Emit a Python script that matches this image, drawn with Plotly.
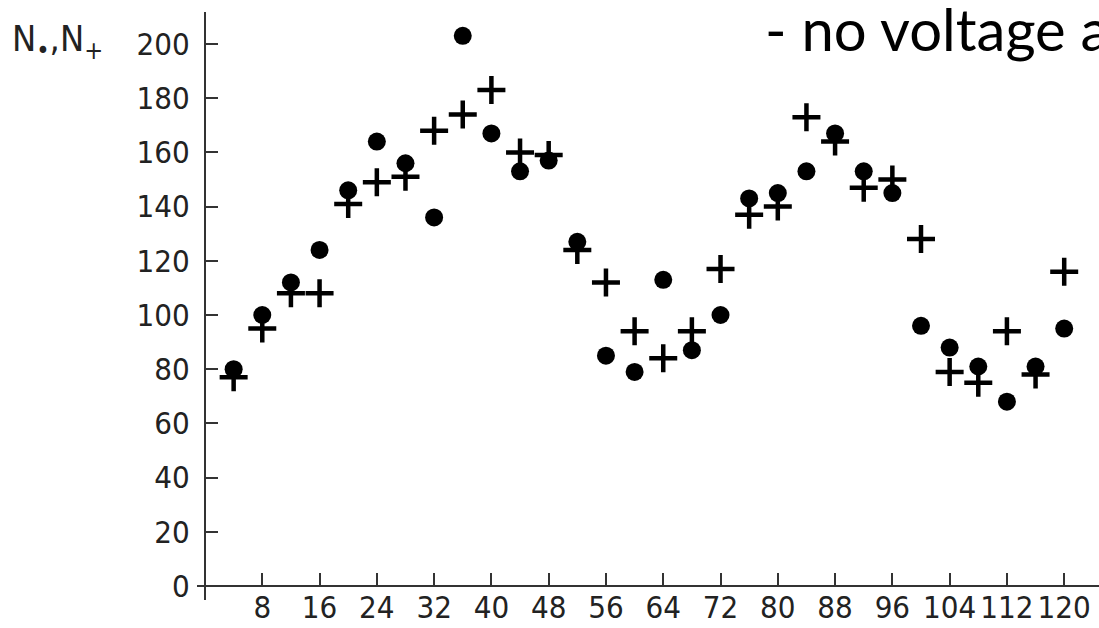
import plotly.graph_objects as go

# ---- data ----
x_pos = [4, 8, 12, 16, 20, 24, 28, 32, 36, 40, 44, 48, 52, 56, 60,
         64, 68, 72, 76, 80, 84, 88, 92, 96, 100, 104, 108, 112, 116, 120]
n_dot = [80, 100, 112, 124, 146, 164, 156, 136, 203, 167, 153, 157, 127, 85, 79,
         113, 87, 100, 143, 145, 153, 167, 153, 145, 96, 88, 81, 68, 81, 95]
n_plus = [77, 95, 108, 108, 141, 149, 151, 168, 174, 183, 160, 159, 124, 112, 94,
          84, 94, 117, 137, 140, 173, 164, 147, 150, 128, 79, 75, 94, 78, 116]
y_ticks = [0, 20, 40, 60, 80, 100, 120, 140, 160, 180, 200]
x_ticks = [8, 16, 24, 32, 40, 48, 56, 64, 72, 80, 88, 96, 104, 112, 120]

W, H = 1099, 628
ML, MR, MT, MB = 197, 0, 12, 28
PW, PH = W - ML - MR, H - MT - MB
PX_X = 7.16   # pixels per x unit
PX_Y = 2.71   # pixels per y unit
X_OFF = 8     # pixels from plot left to x=0
Y_OFF = 14    # pixels from plot bottom to y=0

tick_font = dict(family="DejaVu Sans Condensed, sans-serif", size=31, color="#222222")

fig = go.Figure()
fig.add_trace(go.Scatter(x=x_pos, y=n_dot, mode="markers", name="N•",
                         marker=dict(symbol="circle", size=18, color="black")))
fig.add_trace(go.Scatter(x=x_pos, y=n_plus, mode="markers", name="N+",
                         marker=dict(symbol="cross-thin", size=20,
                                     line=dict(width=4.5, color="black"))))

fig.update_layout(
    template="none",
    width=W, height=H,
    margin=dict(l=ML, r=MR, t=MT, b=MB, autoexpand=False),
    paper_bgcolor="white", plot_bgcolor="white",
    showlegend=False,
    xaxis=dict(range=[-X_OFF / PX_X, (PW - X_OFF) / PX_X],
               anchor="free", position=Y_OFF / PH, automargin=False,
               showgrid=False, zeroline=False,
               showline=True, linecolor="#333333", linewidth=2,
               tickvals=x_ticks, ticktext=[str(v) for v in x_ticks],
               tickangle=0, ticklabelstandoff=-6,
               ticks="inside", ticklen=12, tickwidth=2, tickcolor="#333333",
               tickfont=tick_font),
    yaxis=dict(range=[-Y_OFF / PX_Y, (PH - Y_OFF) / PX_Y],
               anchor="free", position=X_OFF / PW, automargin=False,
               showgrid=False, zeroline=False,
               showline=True, linecolor="#333333", linewidth=2,
               tickvals=y_ticks, ticktext=[str(v) for v in y_ticks],
               ticks="inside", ticklen=12, tickwidth=2, tickcolor="#333333",
               ticklabelstandoff=8,
               tickfont=tick_font),
)

fig.add_annotation(text="N<sub>•</sub>,N<sub>+</sub>", xref="paper", yref="paper",
                   x=(10 - ML) / PW, y=(H - MB - 42) / PH, xanchor="left", yanchor="middle",
                   showarrow=False, font=dict(family=tick_font["family"], size=36, color="#222222"))
fig.add_annotation(text="- no voltage a", xref="paper", yref="paper",
                   x=(763 - ML) / PW, y=(H - MB - 29) / PH, xanchor="left", yanchor="middle",
                   showarrow=False, font=dict(family="Lato, Open Sans, sans-serif", size=58, color="black"))

fig.write_html("out.html", config={"displayModeBar": False},
               post_script="document.body.style.margin='0';")
